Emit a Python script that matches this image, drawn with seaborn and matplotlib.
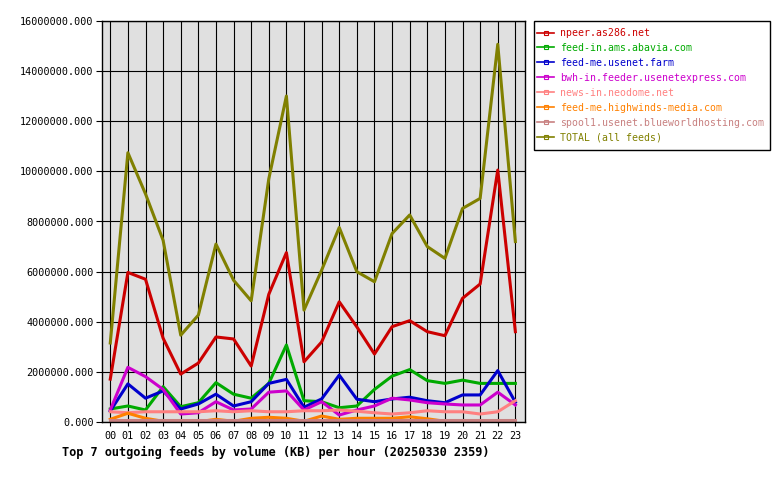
import pandas as pd
import numpy as np
import matplotlib
matplotlib.use('Agg')
import matplotlib.pyplot as plt
from matplotlib.lines import Line2D
from matplotlib.patches import Rectangle
from matplotlib.ticker import FormatStrFormatter
import seaborn as sns

# hourly outgoing volume (KB), in millions
hours = list(range(24))
hour_labels = ['00', '01', '02', '03', '04', '05', '06', '07', '08', '09', '10', '11',
               '12', '13', '14', '15', '16', '17', '18', '19', '20', '21', '22', '23']

npeer = [1.72, 5.97, 5.70, 3.35, 1.92, 2.36, 3.40, 3.32, 2.24, 5.10, 6.76, 2.41,
         3.20, 4.80, 3.80, 2.72, 3.81, 4.05, 3.61, 3.45, 4.94, 5.51, 10.05, 3.61]
abavia = [0.53, 0.65, 0.49, 1.42, 0.62, 0.78, 1.58, 1.12, 0.96, 1.55, 3.08, 0.86,
          0.82, 0.58, 0.65, 1.31, 1.84, 2.10, 1.66, 1.55, 1.68, 1.55, 1.55, 1.55]
usenet_farm = [0.45, 1.53, 0.96, 1.25, 0.53, 0.73, 1.12, 0.65, 0.82, 1.55, 1.71, 0.60,
               0.93, 1.88, 0.92, 0.82, 0.93, 1.00, 0.86, 0.78, 1.09, 1.09, 2.06, 0.80]
usenetexpress = [0.49, 2.19, 1.82, 1.31, 0.33, 0.38, 0.82, 0.49, 0.53, 1.20, 1.25, 0.49,
                 0.82, 0.29, 0.49, 0.65, 0.96, 0.89, 0.78, 0.73, 0.69, 0.69, 1.20, 0.69]
neodome = [0.42, 0.38, 0.42, 0.42, 0.42, 0.42, 0.46, 0.42, 0.46, 0.42, 0.42, 0.46,
           0.46, 0.49, 0.44, 0.38, 0.33, 0.38, 0.46, 0.42, 0.42, 0.33, 0.42, 0.86]
highwinds = [0.12, 0.36, 0.16, 0.04, 0.02, 0.02, 0.12, 0.04, 0.16, 0.20, 0.16, 0.04,
             0.25, 0.12, 0.16, 0.16, 0.16, 0.22, 0.14, 0.04, 0.03, 0.03, 0.03, 0.03]
blueworld = [0.08, 0.08, 0.08, 0.08, 0.08, 0.08, 0.08, 0.08, 0.08, 0.08, 0.08, 0.08,
             0.08, 0.08, 0.08, 0.08, 0.08, 0.08, 0.08, 0.08, 0.08, 0.08, 0.08, 0.08]
total = [3.16, 10.74, 9.10, 7.25, 3.47, 4.27, 7.10, 5.66, 4.84, 9.70, 13.00, 4.47,
         6.06, 7.76, 6.00, 5.60, 7.52, 8.26, 7.00, 6.53, 8.52, 8.92, 15.06, 7.20]

feeds = ['npeer.as286.net', 'feed-in.ams.abavia.com', 'feed-me.usenet.farm',
         'bwh-in.feeder.usenetexpress.com', 'news-in.neodome.net',
         'feed-me.highwinds-media.com', 'spool1.usenet.blueworldhosting.com',
         'TOTAL (all feeds)']
series = [npeer, abavia, usenet_farm, usenetexpress, neodome, highwinds, blueworld, total]
colors = ['#cc0000', '#00aa00', '#0000cc', '#cc00cc', '#ff8080', '#ff8000', '#c88080', '#808000']

df = pd.concat([pd.DataFrame({'hour': hours, 'kb': np.array(v) * 1e6, 'feed': name})
                for name, v in zip(feeds, series)], ignore_index=True)

plt.rcParams['font.family'] = ['DejaVu Sans Mono']

W, H = 780, 480
fig = plt.figure(figsize=(7.8, 4.8), dpi=100)
ax = fig.add_axes([102 / W, 1 - 422.3 / H, (524.7 - 102) / W, (422.3 - 20.7) / H])
ax.set_facecolor('#e0e0e0')

sns.lineplot(data=df, x='hour', y='kb', hue='feed', hue_order=feeds,
             palette=colors, linewidth=2.2, legend=False, sort=False, ax=ax)

ax.set_xlim(-0.47, 23.53)
ax.set_ylim(0, 16e6)
ax.set_xticks(hours)
ax.set_xticklabels(hour_labels)
ax.set_yticks(np.arange(0, 16e6 + 1, 2e6))
ax.yaxis.set_major_formatter(FormatStrFormatter('%.3f'))
ax.grid(True, color='black', linewidth=0.8)
ax.set_axisbelow(True)
ax.set_xlabel('')
ax.set_ylabel('')
ax.tick_params(axis='both', labelsize=7.3, colors='black', width=0.8)
ax.tick_params(axis='y', length=4.5, pad=1.5)
ax.tick_params(axis='x', length=3, pad=3)
for s in ax.spines.values():
    s.set_color('black')
    s.set_linewidth(1.0)

fig.text(62 / W, 1 - 452 / H, 'Top 7 outgoing feeds by volume (KB) per hour (20250330 2359)',
         fontsize=8.6, fontweight='bold', va='center', ha='left')

# legend box drawn separately so its size matches the original
fig.patches.append(Rectangle((534 / W, 1 - 150 / H), (770 - 534) / W, (150 - 20.7) / H,
                             transform=fig.transFigure, facecolor='white',
                             edgecolor='black', linewidth=1.0, zorder=1))
handles = [Line2D([0], [0], color=c, linewidth=1.2, marker='s', markersize=3,
                  markerfacecolor='none', markeredgewidth=0.8) for c in colors]
leg = fig.legend(handles, feeds, loc='upper left',
                 bbox_to_anchor=(537 / W, 1 - 28 / H),
                 bbox_transform=fig.transFigure, borderaxespad=0, borderpad=0,
                 fontsize=7.15, labelcolor='linecolor', handlelength=1.75, handletextpad=0.6,
                 labelspacing=0.5, frameon=False)
leg.set_zorder(2)

fig.savefig('out.png', dpi=100, facecolor='white')
